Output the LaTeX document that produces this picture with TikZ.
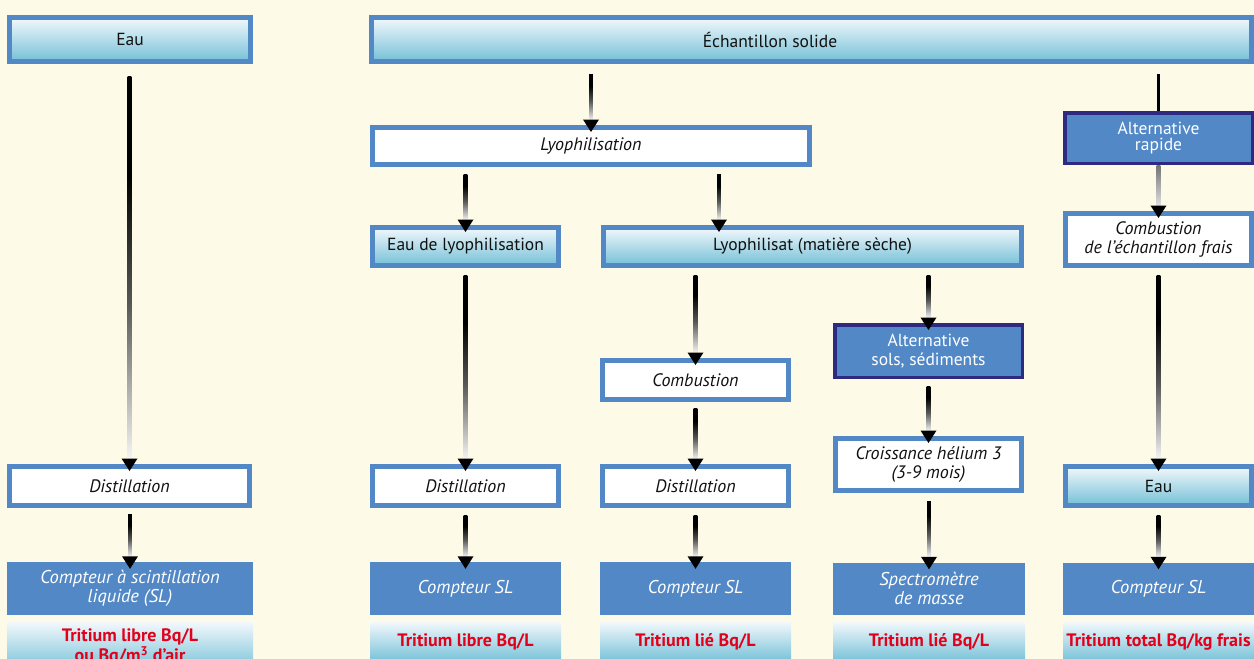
\documentclass[tikz,border=0pt]{standalone}
\usepackage{fontspec}
\setmainfont{PT Sans}
\usetikzlibrary{calc}
\definecolor{bg}{HTML}{FEFAE8}
\definecolor{boxblue}{HTML}{5288C6}
\definecolor{navy}{HTML}{2E2A82}
\definecolor{gtop}{HTML}{F2F8FC}
\definecolor{gbot}{HTML}{74C0D7}
\definecolor{resred}{HTML}{E2001A}
\definecolor{txt}{HTML}{111111}
\pgfdeclareverticalshading{fade}{100bp}{color(0bp)=(black!4); color(25bp)=(black!4); color(45bp)=(black!65); color(62bp)=(black); color(100bp)=(black)}
\pgfdeclareverticalshading{fadegray}{100bp}{color(0bp)=(black!12); color(25bp)=(black!12); color(75bp)=(black!55); color(100bp)=(black!55)}
\tikzset{
  base/.style={inner sep=0pt, align=center, font=\fontsize{17.5}{19}\selectfont, text=txt},
  gbox/.style={base, draw=boxblue, line width=5pt, top color=gtop, bottom color=gbot},
  wbox/.style={base, draw=boxblue, line width=5pt, fill=white, font=\fontsize{18}{19}\selectfont\itshape},
  abox/.style={base, draw=navy, line width=3.5pt, fill=boxblue, text=white},
  cbox/.style={base, fill=boxblue, text=white, font=\fontsize{18.5}{19}\selectfont\itshape},
  rbox/.style={base, top color=gtop, bottom color=gbot, text=resred, font=\fontsize{18}{19.5}\selectfont\bfseries},
}
% arrow: [x reference]{source}{target}{start gap}{shading}
\newcommand\flow[5][]{%
  \def\fx{#1}\ifx\fx\empty\def\fx{#3.north}\fi
  \coordinate (fs) at ($(#2.south -| \fx)+(0pt,-#4pt)$);
  \coordinate (ft) at ($(#3.north -| \fx)+(0pt,-7pt)$);
  \shade[shading=#5] ($(fs)+(-1.8pt,0pt)$) rectangle ($(ft)+(1.8pt,12pt)$);
  \fill[black] ($(ft)+(-8pt,12.5pt)$) -- ($(ft)+(8pt,12.5pt)$) -- (ft) -- cycle;
}
\begin{document}
\begin{tikzpicture}[x=1pt,y=-1pt]
\path[use as bounding box] (0,0) rectangle (1254,659);
\fill[bg] (0,0) rectangle (1254,659);
\begin{scope}
\clip (0,0) rectangle (1254,659);
% top row
\node[gbox, minimum width=241pt, minimum height=44pt] (eau1) at (130,39.5) {Eau};
\node[gbox, minimum width=880pt, minimum height=44pt] (ech) at (811.5,39.5) {Échantillon solide\hspace*{83pt}};
% lyophilisation
\node[wbox, minimum width=437pt, minimum height=37pt] (lyo) at (591,146) {Lyophilisation};
\node[gbox, minimum width=186pt, minimum height=38pt] (eaulyo) at (465.5,246.5) {Eau de lyophilisation};
\node[gbox, minimum width=418pt, minimum height=38pt] (lyosat) at (812.5,246.5) {Lyophilisat (matière sèche)};
% right column
\node[abox, minimum width=187.5pt, minimum height=50.5pt, font=\fontsize{17.5}{16.5}\selectfont] (altr) at (1158.5,138) {Alternative\\rapide};
\node[wbox, minimum width=186pt, minimum height=52pt] (combf) at (1158.5,239.5) {Combustion\\de l’échantillon frais};
\node[gbox, minimum width=186pt, minimum height=39pt] (eau2) at (1158.5,486) {Eau};
% middle
\node[wbox, minimum width=186pt, minimum height=39pt] (comb) at (695.5,380) {Combustion};
\node[abox, minimum width=187.5pt, minimum height=52.5pt] (alts) at (928.5,351) {Alternative\\sols, sédiments};
\node[wbox, minimum width=186pt, minimum height=52pt] (crois) at (928.5,464.5) {Croissance hélium 3\\(3-9 mois)};
% distillations
\node[wbox, minimum width=240pt, minimum height=39pt] (dist1) at (129.5,486) {Distillation};
\node[wbox, minimum width=186pt, minimum height=39pt] (dist2) at (465.5,486) {Distillation};
\node[wbox, minimum width=186pt, minimum height=39pt] (dist3) at (695.5,486) {Distillation};
% counters
\node[cbox, minimum width=246pt, minimum height=53pt] (cpt1) at (130,588.5) {Compteur à scintillation\\liquide (SL)};
\node[cbox, minimum width=191pt, minimum height=53pt] (cpt2) at (465.5,588.5) {Compteur SL};
\node[cbox, minimum width=191pt, minimum height=53pt] (cpt3) at (695.5,588.5) {Compteur SL};
\node[cbox, minimum width=192pt, minimum height=52pt] (spec) at (929,588.5) {Spectromètre\\de masse};
\node[cbox, minimum width=191pt, minimum height=52pt] (cpt4) at (1158.5,588.5) {Compteur SL};
% results
\node[rbox, minimum width=246pt, minimum height=50pt] (res1) at (130,647) {Tritium libre Bq/L\\ou Bq/m\textsuperscript{3} d’air};
\node[rbox, minimum width=191pt, minimum height=40pt] (res2) at (465.5,642) {Tritium libre Bq/L};
\node[rbox, minimum width=191pt, minimum height=40pt] (res3) at (695.5,642) {Tritium lié Bq/L};
\node[rbox, minimum width=192pt, minimum height=40pt] (res4) at (929,642) {Tritium lié Bq/L};
\node[rbox, minimum width=191pt, minimum height=40pt] (res5) at (1158.5,642) {Tritium total Bq/kg frais};
% arrows
\flow{eau1}{dist1}{12}{fade}
\flow{dist1}{cpt1}{6}{fade}
\flow{ech}{lyo}{10}{fade}
\coordinate (lsx) at (719,246.5);
\flow{lyo}{eaulyo}{7}{fade}
\flow[lsx]{lyo}{lyosat}{7}{fade}
\flow{eaulyo}{dist2}{7}{fade}
\flow{dist2}{cpt2}{7}{fade}
\flow{lyosat}{comb}{7}{fade}
\flow{comb}{dist3}{6}{fade}
\flow{dist3}{cpt3}{7}{fade}
\flow{lyosat}{alts}{7}{fade}
\flow{alts}{crois}{7}{fade}
\flow{crois}{spec}{8}{fade}
\draw[line width=3.6pt, black] ($(ech.south -| altr.north)+(0pt,-10pt)$) -- (altr.north);
\flow{altr}{combf}{0}{fadegray}
\flow{combf}{eau2}{7}{fade}
\flow{eau2}{cpt4}{7}{fade}
\end{scope}
\end{tikzpicture}
\end{document}
